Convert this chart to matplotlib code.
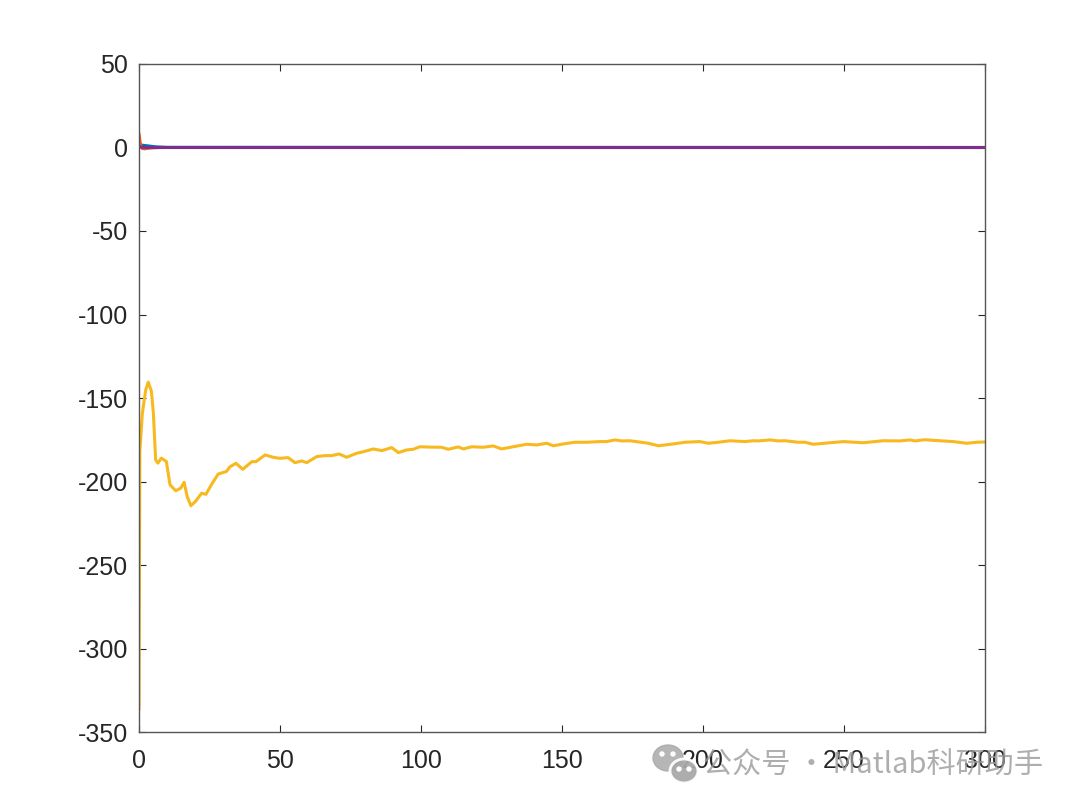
import matplotlib
matplotlib.use("Agg")
import matplotlib.pyplot as plt
from matplotlib.patches import Ellipse

# series (x, y vertices)
blue_x = [0, 1, 2, 4, 6, 10, 300]
blue_y = [1.6, 1.4, 1.2, 0.8, 0.4, 0.1, 0.0]

orange_x = [0, 0.5, 1, 2, 3, 5, 8, 300]
orange_y = [8.0, 2.0, -0.5, -0.8, -0.5, -0.2, 0.0, 0.0]

yellow_x = [0, 0.3, 1.2, 2.4, 3.3, 4.4, 5.1, 5.9, 6.7, 7.9, 9.7, 11.0, 13.0, 14.8,
            16.0, 17.1, 18.4, 20.0, 22.2, 23.7, 26.0, 28.1, 31.0, 32.3, 34.4, 36.8,
            40.0, 41.5, 44.7, 47.6, 50.0, 52.9, 55.3, 57.7, 59.5, 63.0, 66.0, 68.3,
            71.0, 73.6, 77.2, 79.5, 83.1, 86.1, 89.6, 92.0, 94.9, 97.3, 99.6, 103.2,
            107.3, 109.7, 113.2, 115.0, 118.0, 122.1, 125.6, 128.6, 132.7, 137.5,
            141.0, 144.6, 146.9, 150.5, 154.6, 158.8, 163.5, 165.8, 168.8, 171.2,
            174.1, 180.6, 184.2, 189.5, 193.6, 198.9, 201.9, 205.4, 209.6, 214.9,
            217.8, 219.6, 223.8, 226.7, 229.1, 233.8, 236.2, 239.1, 245.0, 249.8,
            256.8, 263.9, 269.9, 273.4, 275.2, 278.7, 284.0, 288.8, 293.5, 297.1, 300.0]
yellow_y = [-336, -182, -159, -145, -140.5, -146, -159, -187, -189, -186, -188, -202,
            -205.5, -204, -200.5, -209, -214.5, -212, -207, -207.7, -201, -195.5, -194,
            -191.1, -189.1, -192.7, -188.1, -188.1, -184.1, -185.5, -186.1, -185.7,
            -188.7, -187.7, -188.7, -185.1, -184.5, -184.5, -183.5, -185.5, -183.1,
            -182.2, -180.5, -181.5, -179.7, -182.7, -181.1, -180.7, -179.2, -179.4,
            -179.5, -180.7, -179.3, -180.5, -179.2, -179.5, -178.7, -180.5, -179.2,
            -177.7, -178.1, -177.1, -178.6, -177.5, -176.5, -176.5, -176.1, -176.1,
            -175.1, -175.7, -175.6, -177.1, -178.6, -177.5, -176.5, -176.1, -177.1,
            -176.5, -175.6, -176.1, -175.6, -175.7, -175.1, -175.7, -175.6, -176.5,
            -176.5, -177.7, -176.8, -176.1, -176.8, -175.6, -175.7, -175.1, -175.7,
            -175.0, -175.6, -176.1, -177.1, -176.5, -176.3]

purple_x = [0, 1, 3, 300]
purple_y = [0.5, 0.2, 0.0, 0.0]

xticks = [0, 50, 100, 150, 200, 250, 300]
yticks = [-350, -300, -250, -200, -150, -100, -50, 0, 50]

WATERMARK = "公众号 · Matlab科研助手"

plt.rcParams['font.family'] = ['Liberation Sans', 'DejaVu Sans']
plt.rcParams['axes.unicode_minus'] = False  # matlab uses a plain hyphen

fig = plt.figure(figsize=(10.8, 8.06), dpi=100, facecolor="white")
ax = fig.add_axes([0.1287, 0.0918, 0.7833, 0.8288])

lw = 2.2
ax.plot(blue_x, blue_y, color="#0072BD", lw=lw)
ax.plot(orange_x, orange_y, color="#E8591E", lw=lw)
ax.plot(yellow_x, yellow_y, color="#F8B91F", lw=lw)
ax.plot(purple_x, purple_y, color="#7E2F8E", lw=lw)

ax.set_xlim(0, 300)
ax.set_ylim(-350, 50)
ax.set_xticks(xticks)
ax.set_yticks(yticks)
ax.tick_params(direction="in", length=5, width=0.8, colors="#262626",
               labelsize=18, top=True, right=True)
ax.tick_params(axis="y", pad=8)
ax.tick_params(axis="x", pad=12)
for sp in ax.spines.values():
    sp.set_color("#555555")
    sp.set_linewidth(1.0)

# watermark overlay in pixel coordinates
ov = fig.add_axes([0, 0, 1, 1])
ov.set_xlim(0, 1080)
ov.set_ylim(806, 0)
ov.axis("off")
ov.add_patch(Ellipse((668, 758), 30, 26, color="#a9a9a9", alpha=0.85))
ov.add_patch(Ellipse((684, 771), 28, 24, facecolor="#a9a9a9", edgecolor="white",
                     lw=2, alpha=0.95))
for ex, ey in [(662, 754), (673, 754), (679, 769), (689, 769)]:
    ov.add_patch(Ellipse((ex, ey), 4, 4, color="white"))
ov.text(703, 766, WATERMARK, ha="left", va="center", fontsize=21,
        color="#9a9a9a", alpha=0.8, family=["Noto Sans CJK SC", "DejaVu Sans"])

fig.savefig("out.png", dpi=100)
